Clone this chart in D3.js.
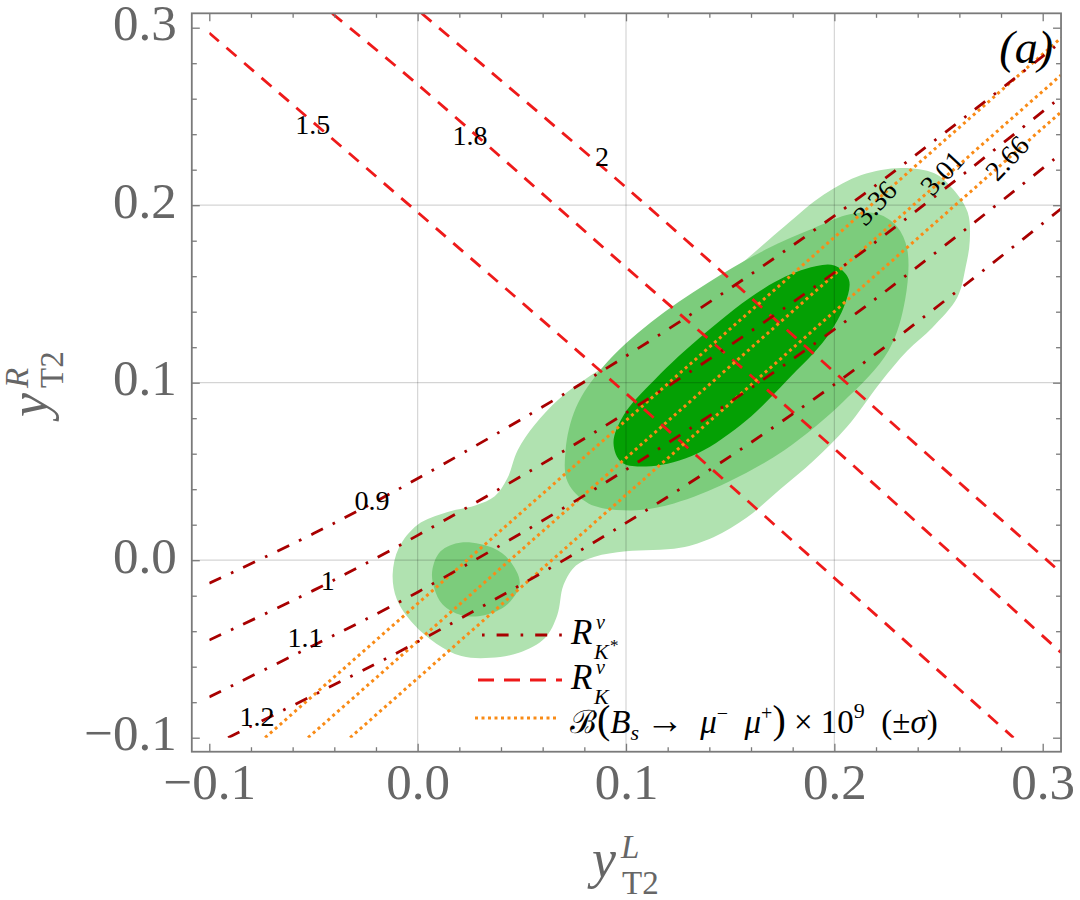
<!DOCTYPE html>
<html><head><meta charset="utf-8">
<script src="https://cdn.jsdelivr.net/npm/d3@7/dist/d3.min.js"></script>
<style>
body{margin:0;background:#fff;}
svg{display:block;font-family:"Liberation Serif","Times New Roman",serif;}
</style></head><body>
<svg id="chart" width="1080" height="900"></svg>
<script>
// ---------------- data ----------------
const xTickValues = [-0.1, 0.0, 0.1, 0.2, 0.3];
const xTickLabels = ["\u22120.1", "0.0", "0.1", "0.2", "0.3"];
const yTickValues = [-0.1, 0.0, 0.1, 0.2, 0.3];
const yTickLabels = ["\u22120.1", "0.0", "0.1", "0.2", "0.3"];
const gridValues = [0.0, 0.1, 0.2];

// confidence regions (y_L, y_R) boundaries
const regionOuter = [[-0.012,-0.008],[-0.009,0.007],[0.000,0.020],[0.014,0.027],[0.028,0.031],[0.037,0.036],[0.043,0.046],[0.048,0.062],[0.056,0.076],[0.068,0.091],[0.083,0.104],[0.102,0.118],[0.121,0.137],[0.149,0.161],[0.176,0.188],[0.195,0.206],[0.213,0.217],[0.232,0.221],[0.248,0.218],[0.257,0.209],[0.264,0.196],[0.265,0.180],[0.263,0.165],[0.259,0.148],[0.247,0.131],[0.235,0.118],[0.222,0.100],[0.206,0.075],[0.190,0.056],[0.174,0.040],[0.158,0.024],[0.142,0.013],[0.126,0.007],[0.100,0.005],[0.085,0.002],[0.076,-0.003],[0.070,-0.014],[0.067,-0.031],[0.061,-0.044],[0.049,-0.052],[0.035,-0.055],[0.021,-0.054],[0.009,-0.047],[-0.002,-0.036],[-0.010,-0.022]];
const regionMiddle = [[0.071,0.062],[0.072,0.044],[0.082,0.032],[0.102,0.028],[0.123,0.032],[0.149,0.044],[0.176,0.062],[0.204,0.089],[0.226,0.118],[0.234,0.147],[0.235,0.175],[0.230,0.188],[0.221,0.195],[0.208,0.195],[0.190,0.187],[0.167,0.175],[0.139,0.156],[0.112,0.134],[0.089,0.109],[0.076,0.086]];
const regionMiddleSmall = [[0.007,-0.006],[0.011,0.005],[0.021,0.010],[0.036,0.007],[0.044,0.000],[0.049,-0.013],[0.043,-0.025],[0.032,-0.031],[0.021,-0.031],[0.012,-0.025],[0.008,-0.016]];
const regionInner = [[0.094,0.066],[0.099,0.082],[0.114,0.102],[0.138,0.128],[0.166,0.153],[0.186,0.164],[0.200,0.166],[0.207,0.158],[0.205,0.144],[0.196,0.125],[0.177,0.101],[0.158,0.079],[0.134,0.060],[0.112,0.053],[0.098,0.055]];

// R_K^nu contours (red dashed)
const rkLevels = ["1.5", "1.8", "2"];
const rk15 = [[-0.1,0.297],[0.0,0.196],[0.1,0.094],[0.2,-0.010],[0.286,-0.1]];
const rk18 = [[-0.041,0.308],[0.0,0.268],[0.1,0.165],[0.195,0.068],[0.3088,-0.052]];
const rk20 = [[0.002,0.308],[0.1,0.210],[0.2,0.106],[0.3088,-0.007]];
const rkLabelAt = [[-0.0503,0.2452],[0.0251,0.2395],[0.0885,0.2272]];

// R_K*^nu contours (dark red dash-dot)
const rksLevels = ["0.9", "1", "1.1", "1.2"];
const rks09 = [[-0.1,-0.013],[-0.05,0.015],[0.0,0.046],[0.1,0.115],[0.2,0.194],[0.3088,0.292]];
const rks10 = [[-0.1,-0.045],[-0.05,-0.017],[0.0,0.014],[0.1,0.083],[0.2,0.162],[0.3088,0.261]];
const rks11 = [[-0.1,-0.077],[-0.05,-0.048],[0.0,-0.018],[0.1,0.051],[0.2,0.130],[0.3088,0.229]];
const rks12 = [[-0.091,-0.1],[-0.05,-0.076],[0.0,-0.046],[0.1,0.021],[0.2,0.099],[0.3088,0.198]];
const rksLabelAt = [[-0.0219,0.0339],[-0.0431,-0.0112],[-0.0541,-0.0433],[-0.0771,-0.0883]];

// B(Bs -> mu mu) x 1e9 contours (orange dotted)
const bsLevels = ["3.36", "3.01", "2.66"];
const bs336 = [[-0.0732,-0.1],[0.3088,0.2942]];
const bs301 = [[-0.0526,-0.1],[0.3088,0.2733]];
const bs266 = [[-0.0324,-0.1],[0.3088,0.2525]];
const bsLabelAt = [[0.2195,0.2013],[0.2517,0.2182],[0.2829,0.2266]];

// ---------------- drawing ----------------
const svg = d3.select("#chart");
const x = d3.scaleLinear().domain([-0.1, 0.3]).range([209.3, 1042.7]);
const y = d3.scaleLinear().domain([-0.1, 0.3]).range([737.7, 27.7]);
const xFrame = [-0.1084, 0.3088], yFrame = [-0.1079, 0.3081];
const XL = x(xFrame[0]), XR = x(xFrame[1]), YT = y(yFrame[1]), YB = y(yFrame[0]);

const COL = {light:"#b0e2b0", mid:"#7ccc7c", dark:"#04a004",
             red:"#ee1a1a", dred:"#a80000", orange:"#f98b16",
             axis:"#7a7a7a", tick:"#666666"};

svg.append("defs").append("clipPath").attr("id","cp").append("rect")
  .attr("x", x(-0.1)).attr("y", YT).attr("width", XR - x(-0.1)).attr("height", y(-0.1) - YT);

const closed = d3.line().x(d => x(d[0])).y(d => y(d[1])).curve(d3.curveCatmullRomClosed.alpha(0.5));
const open = d3.line().x(d => x(d[0])).y(d => y(d[1])).curve(d3.curveCatmullRom.alpha(0.5));

const gFill = svg.append("g");
gFill.append("path").attr("d", closed(regionOuter)).attr("fill", COL.light);
gFill.append("path").attr("d", closed(regionMiddle)).attr("fill", COL.mid);
gFill.append("path").attr("d", closed(regionMiddleSmall)).attr("fill", COL.mid);
gFill.append("path").attr("d", closed(regionInner)).attr("fill", COL.dark);

// grid
const gGrid = svg.append("g").attr("stroke", "#000").attr("stroke-opacity", 0.17).attr("stroke-width", 1.2);
gridValues.forEach(v => {
  gGrid.append("line").attr("x1", x(v)).attr("x2", x(v)).attr("y1", YT).attr("y2", YB);
  gGrid.append("line").attr("y1", y(v)).attr("y2", y(v)).attr("x1", XL).attr("x2", XR);
});

// contour lines
const gLines = svg.append("g").attr("clip-path", "url(#cp)").attr("fill", "none");
[rk15, rk18, rk20].forEach(l => gLines.append("path").attr("d", open(l))
  .attr("stroke", COL.red).attr("stroke-width", 2.8).attr("stroke-dasharray", "13,10"));
[bs336, bs301, bs266].forEach(l => gLines.append("path").attr("d", open(l))
  .attr("stroke", COL.orange).attr("stroke-width", 3).attr("stroke-dasharray", "3,3.5"));
[rks09, rks10, rks11, rks12].forEach(l => gLines.append("path").attr("d", open(l))
  .attr("stroke", COL.dred).attr("stroke-width", 2.8).attr("stroke-dasharray", "13,11,2.6,11"));

// contour labels
const gLab = svg.append("g").attr("font-size", 28).attr("fill", "#000")
  .attr("text-anchor", "middle").attr("dominant-baseline", "central");
rkLevels.forEach((t, i) => gLab.append("text").attr("x", x(rkLabelAt[i][0])).attr("y", y(rkLabelAt[i][1])).text(t));
rksLevels.forEach((t, i) => gLab.append("text").attr("x", x(rksLabelAt[i][0])).attr("y", y(rksLabelAt[i][1])).text(t));
bsLevels.forEach((t, i) => {
  const px = x(bsLabelAt[i][0]), py = y(bsLabelAt[i][1]);
  gLab.append("text").attr("transform", `translate(${px},${py}) rotate(-47)`).text(t);
});

// legend
const gLeg = svg.append("g");
gLeg.append("line").attr("x1", 482).attr("x2", 566).attr("y1", 635).attr("y2", 635)
  .attr("stroke", COL.dred).attr("stroke-width", 2.8).attr("stroke-dasharray", "2.6,12,12,12");
gLeg.append("line").attr("x1", 478).attr("x2", 562).attr("y1", 680).attr("y2", 680)
  .attr("stroke", COL.red).attr("stroke-width", 2.8).attr("stroke-dasharray", "16,10");
gLeg.append("line").attr("x1", 475).attr("x2", 558).attr("y1", 718).attr("y2", 718)
  .attr("stroke", COL.orange).attr("stroke-width", 3).attr("stroke-dasharray", "3,3.5");

function rSym(baseY, star) {
  const t = gLeg.append("text").attr("fill", "#000").attr("font-style", "italic");
  t.append("tspan").attr("x", 571).attr("y", baseY).attr("font-size", 35).text("R");
  t.append("tspan").attr("x", 596).attr("y", baseY - 15).attr("font-size", 20).text("\u03bd");
  t.append("tspan").attr("x", 594).attr("y", baseY + 15).attr("font-size", 22).text("K");
  if (star) t.append("tspan").attr("x", 610).attr("y", baseY + 7).attr("font-size", 17).attr("font-style", "normal").text("*");
}
rSym(644, true);
rSym(689, false);

const row3 = [
  {t:"\u212c", s:32, off:0},
  {t:"(", s:40, off:0},
  {t:"B", s:33, off:0, it:1},
  {t:"s", s:22, off:7, it:1},
  {t:"\u2009", s:33, off:0},
  {t:"\u2192", s:38, off:0},
  {t:"\u2002", s:33, off:0},
  {t:"\u03bc", s:33, off:0, it:1},
  {t:"\u2212", s:20, off:-13},
  {t:"\u2002", s:33, off:0},
  {t:"\u03bc", s:33, off:0, it:1},
  {t:"+", s:20, off:-13},
  {t:")", s:40, off:0},
  {t:" \u00d7 10", s:33, off:0},
  {t:"9", s:22, off:-15},
  {t:"\u2002(\u00b1", s:33, off:0},
  {t:"\u03c3", s:33, off:0, it:1},
  {t:")", s:33, off:0}
];
const t3 = gLeg.append("text").attr("x", 570).attr("y", 733).attr("fill", "#000");
let prev = 0;
row3.forEach(p => {
  t3.append("tspan").attr("dy", p.off - prev).attr("font-size", p.s)
    .attr("font-style", p.it ? "italic" : "normal").text(p.t);
  prev = p.off;
});

// panel label
svg.append("text").attr("x", 1053).attr("y", 63).attr("text-anchor", "end")
  .attr("font-size", 46).attr("font-style", "italic").attr("fill", "#000").text("(a)");

// axes (frame ticks pointing inward)
const minorVals = d3.range(-5, 16).map(i => +(i * 0.02).toFixed(2)).filter(v => Math.abs(v * 10 - Math.round(v * 10)) > 1e-6);
function styleAxis(g) {
  g.select(".domain").remove();
  g.attr("font-family", null).attr("font-size", null);
  g.selectAll("line").attr("stroke", COL.axis).attr("stroke-width", 1.3);
  g.selectAll("text").attr("fill", COL.tick).attr("font-size", 51);
}
const gx = svg.append("g").attr("transform", `translate(0,${YB})`)
  .call(d3.axisBottom(x).tickValues(xTickValues).tickSize(-8).tickPadding(11).tickFormat((d, i) => xTickLabels[i]));
styleAxis(gx);
svg.append("g").attr("transform", `translate(0,${YB})`)
  .call(d3.axisBottom(x).tickValues(minorVals).tickSize(-4.5).tickFormat("")).call(styleAxis);
svg.append("g").attr("transform", `translate(0,${YT})`)
  .call(d3.axisTop(x).tickValues(xTickValues).tickSize(-8).tickFormat("")).call(styleAxis);
svg.append("g").attr("transform", `translate(0,${YT})`)
  .call(d3.axisTop(x).tickValues(minorVals).tickSize(-4.5).tickFormat("")).call(styleAxis);

const gy = svg.append("g").attr("transform", `translate(${XL},0)`)
  .call(d3.axisLeft(y).tickValues(yTickValues).tickSize(-8).tickPadding(15).tickFormat((d, i) => yTickLabels[i]));
styleAxis(gy);
gy.selectAll("text").attr("dy", "0.235em");
svg.append("g").attr("transform", `translate(${XL},0)`)
  .call(d3.axisLeft(y).tickValues(minorVals).tickSize(-5).tickFormat("")).call(styleAxis);
svg.append("g").attr("transform", `translate(${XR},0)`)
  .call(d3.axisRight(y).tickValues(yTickValues).tickSize(-8).tickFormat("")).call(styleAxis);
svg.append("g").attr("transform", `translate(${XR},0)`)
  .call(d3.axisRight(y).tickValues(minorVals).tickSize(-5).tickFormat("")).call(styleAxis);

svg.append("rect").attr("x", XL).attr("y", YT).attr("width", XR - XL).attr("height", YB - YT)
  .attr("fill", "none").attr("stroke", COL.axis).attr("stroke-width", 1.8);

// axis titles
const xt = svg.append("text").attr("fill", COL.tick);
xt.append("tspan").attr("x", 592).attr("y", 877).attr("font-size", 54).attr("font-style", "italic").text("y");
xt.append("tspan").attr("x", 621).attr("y", 858).attr("font-size", 33).attr("font-style", "italic").text("L");
xt.append("tspan").attr("x", 622).attr("y", 894).attr("font-size", 33).text("T2");

const yt = svg.append("text").attr("fill", COL.tick).attr("transform", "rotate(-90)");
yt.append("tspan").attr("x", -417).attr("y", 47).attr("font-size", 54).attr("font-style", "italic").text("y");
yt.append("tspan").attr("x", -388).attr("y", 28).attr("font-size", 33).attr("font-style", "italic").text("R");
yt.append("tspan").attr("x", -388).attr("y", 63).attr("font-size", 33).text("T2");
</script>
</body></html>
